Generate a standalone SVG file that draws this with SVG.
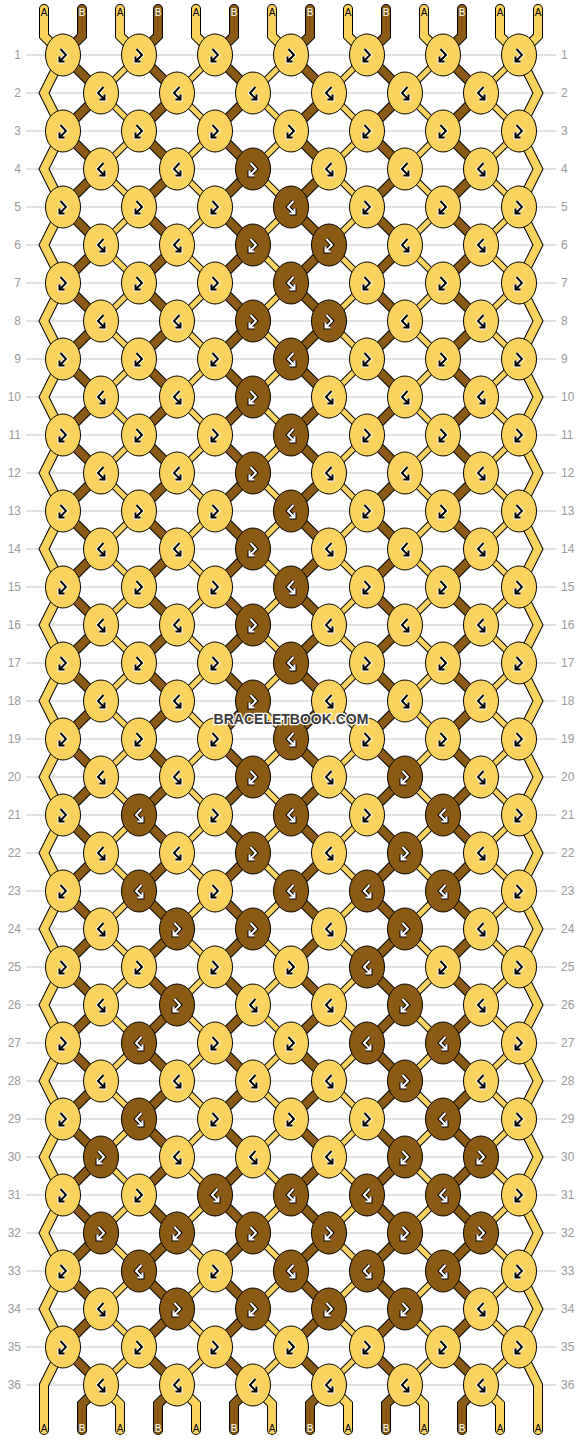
<svg xmlns="http://www.w3.org/2000/svg" xmlns:xlink="http://www.w3.org/1999/xlink" width="582" height="1440" viewBox="0 0 582 1440">
<style>
.ln{fill:none;stroke:#c4c4c4;stroke-width:1}
.lb{font-family:"Liberation Sans",Arial,sans-serif;font-size:12px;fill:#9a9a9a}
.lr{text-anchor:end}
.o10{fill:none;stroke:#000;stroke-width:10;stroke-linecap:round}
.o7{fill:none;stroke:#000;stroke-width:7}
.y8{fill:none;stroke:#FAD35E;stroke-width:8;stroke-linecap:round}
.b8{fill:none;stroke:#8B5A14;stroke-width:8;stroke-linecap:round}
.y5{fill:none;stroke:#FAD35E;stroke-width:5}
.tl{font-family:"Liberation Sans",Arial,sans-serif;font-size:10px;text-anchor:middle}
.ta{fill:#000}
.tb{fill:#fff}
.wm{font-family:"Liberation Sans",Arial,sans-serif;font-weight:bold;font-size:14px;text-anchor:middle;fill:#3a3a3a;stroke:#fff;stroke-width:2.5;paint-order:stroke;stroke-linejoin:round}
</style>
<defs>
<path id="zb" d="M0,0l38,38l-38,38l38,38l-38,38l38,38l-38,38l38,38l-38,38l38,38l-38,38 l38,38l-38,38l38,38l-38,38l38,38l-38,38l38,38l-38,38l38,38l-38,38 l38,38l-38,38l38,38l-38,38l38,38l-38,38l38,38l-38,38l38,38l-38,38 l38,38l-38,38l38,38l-38,38 l38,38"/>
<path id="za" d="M0,0l-38,38l38,38l-38,38l38,38l-38,38l38,38l-38,38l38,38l-38,38l38,38 l-38,38l38,38l-38,38l38,38l-38,38l38,38l-38,38l38,38l-38,38l38,38 l-38,38l38,38l-38,38l38,38l-38,38l38,38l-38,38l38,38l-38,38l38,38 l-38,38l38,38l-38,38l38,38 l-38,38"/>
<path id="edges" d="M44,9V36L63,55 l-19,38l19,38l-19,38l19,38l-19,38l19,38l-19,38l19,38l-19,38l19,38 l-19,38l19,38l-19,38l19,38l-19,38l19,38l-19,38l19,38l-19,38l19,38 l-19,38l19,38l-19,38l19,38l-19,38l19,38l-19,38l19,38l-19,38l19,38 l-19,38l19,38l-19,38l19,38 l-19,38V1430 M538,9V36L519,55 l19,38l-19,38l19,38l-19,38l19,38l-19,38l19,38l-19,38l19,38l-19,38 l19,38l-19,38l19,38l-19,38l19,38l-19,38l19,38l-19,38l19,38l-19,38 l19,38l-19,38l19,38l-19,38l19,38l-19,38l19,38l-19,38l19,38l-19,38 l19,38l-19,38l19,38l-19,38 l19,38V1430"/>
<path id="stA" d="M120,9V36L139,55M196,9V36L215,55M272,9V36L291,55M348,9V36L367,55M424,9V36L443,55M500,9V36L519,55M101,1385L120,1404V1430M177,1385L196,1404V1430M253,1385L272,1404V1430M329,1385L348,1404V1430M405,1385L424,1404V1430M481,1385L500,1404V1430"/>
<path id="stB" d="M82,9V36L63,55M158,9V36L139,55M234,9V36L215,55M310,9V36L291,55M386,9V36L367,55M462,9V36L443,55M101,1385L82,1404V1430M177,1385L158,1404V1430M253,1385L234,1404V1430M329,1385L310,1404V1430M405,1385L386,1404V1430M481,1385L462,1404V1430"/>
<path id="af" d="M-2.5,-6L3,0L-3.5,6.5M-3.5,1.5V6.5H1.5"/>
<path id="ab" d="M2.5,-6L-3,0L3.5,6.5M3.5,1.5V6.5H-1.5"/>
<g id="Yf"><ellipse rx="17.5" ry="21" fill="#FAD35E" stroke="#000" stroke-width="1"/><use href="#af" fill="none" stroke="#fff" stroke-width="4"/><use href="#af" fill="none" stroke="#000" stroke-width="2"/></g>
<g id="Yb"><ellipse rx="17.5" ry="21" fill="#FAD35E" stroke="#000" stroke-width="1"/><use href="#ab" fill="none" stroke="#fff" stroke-width="4"/><use href="#ab" fill="none" stroke="#000" stroke-width="2"/></g>
<g id="Bf"><ellipse rx="17.5" ry="21" fill="#8B5A14" stroke="#000" stroke-width="1"/><use href="#af" fill="none" stroke="#000" stroke-width="4"/><use href="#af" fill="none" stroke="#fff" stroke-width="2"/></g>
<g id="Bb"><ellipse rx="17.5" ry="21" fill="#8B5A14" stroke="#000" stroke-width="1"/><use href="#ab" fill="none" stroke="#000" stroke-width="4"/><use href="#ab" fill="none" stroke="#fff" stroke-width="2"/></g>
</defs>
<rect width="582" height="1440" fill="#fff"/>
<g id="grid">
<path class="ln" d="M26,55H556M26,93H556M26,131H556M26,169H556M26,207H556M26,245H556M26,283H556M26,321H556M26,359H556M26,397H556M26,435H556M26,473H556M26,511H556M26,549H556M26,587H556M26,625H556M26,663H556M26,701H556M26,739H556M26,777H556M26,815H556M26,853H556M26,891H556M26,929H556M26,967H556M26,1005H556M26,1043H556M26,1081H556M26,1119H556M26,1157H556M26,1195H556M26,1233H556M26,1271H556M26,1309H556M26,1347H556M26,1385H556"/>
<g class="lb">
<text class="lr" x="21" y="59">1</text><text x="561" y="59">1</text>
<text class="lr" x="21" y="97">2</text><text x="561" y="97">2</text>
<text class="lr" x="21" y="135">3</text><text x="561" y="135">3</text>
<text class="lr" x="21" y="173">4</text><text x="561" y="173">4</text>
<text class="lr" x="21" y="211">5</text><text x="561" y="211">5</text>
<text class="lr" x="21" y="249">6</text><text x="561" y="249">6</text>
<text class="lr" x="21" y="287">7</text><text x="561" y="287">7</text>
<text class="lr" x="21" y="325">8</text><text x="561" y="325">8</text>
<text class="lr" x="21" y="363">9</text><text x="561" y="363">9</text>
<text class="lr" x="21" y="401">10</text><text x="561" y="401">10</text>
<text class="lr" x="21" y="439">11</text><text x="561" y="439">11</text>
<text class="lr" x="21" y="477">12</text><text x="561" y="477">12</text>
<text class="lr" x="21" y="515">13</text><text x="561" y="515">13</text>
<text class="lr" x="21" y="553">14</text><text x="561" y="553">14</text>
<text class="lr" x="21" y="591">15</text><text x="561" y="591">15</text>
<text class="lr" x="21" y="629">16</text><text x="561" y="629">16</text>
<text class="lr" x="21" y="667">17</text><text x="561" y="667">17</text>
<text class="lr" x="21" y="705">18</text><text x="561" y="705">18</text>
<text class="lr" x="21" y="743">19</text><text x="561" y="743">19</text>
<text class="lr" x="21" y="781">20</text><text x="561" y="781">20</text>
<text class="lr" x="21" y="819">21</text><text x="561" y="819">21</text>
<text class="lr" x="21" y="857">22</text><text x="561" y="857">22</text>
<text class="lr" x="21" y="895">23</text><text x="561" y="895">23</text>
<text class="lr" x="21" y="933">24</text><text x="561" y="933">24</text>
<text class="lr" x="21" y="971">25</text><text x="561" y="971">25</text>
<text class="lr" x="21" y="1009">26</text><text x="561" y="1009">26</text>
<text class="lr" x="21" y="1047">27</text><text x="561" y="1047">27</text>
<text class="lr" x="21" y="1085">28</text><text x="561" y="1085">28</text>
<text class="lr" x="21" y="1123">29</text><text x="561" y="1123">29</text>
<text class="lr" x="21" y="1161">30</text><text x="561" y="1161">30</text>
<text class="lr" x="21" y="1199">31</text><text x="561" y="1199">31</text>
<text class="lr" x="21" y="1237">32</text><text x="561" y="1237">32</text>
<text class="lr" x="21" y="1275">33</text><text x="561" y="1275">33</text>
<text class="lr" x="21" y="1313">34</text><text x="561" y="1313">34</text>
<text class="lr" x="21" y="1351">35</text><text x="561" y="1351">35</text>
<text class="lr" x="21" y="1389">36</text><text x="561" y="1389">36</text>
</g>
</g>
<g id="connectors">
<use href="#za" x="139" y="55" class="o7"/><use href="#za" x="215" y="55" class="o7"/><use href="#za" x="291" y="55" class="o7"/><use href="#za" x="367" y="55" class="o7"/><use href="#za" x="443" y="55" class="o7"/><use href="#za" x="519" y="55" class="o7"/>
<use href="#zb" x="63" y="55" class="o10"/><use href="#zb" x="139" y="55" class="o10"/><use href="#zb" x="215" y="55" class="o10"/><use href="#zb" x="291" y="55" class="o10"/><use href="#zb" x="367" y="55" class="o10"/><use href="#zb" x="443" y="55" class="o10"/>
<use href="#edges" class="o10"/><use href="#stA" class="o10"/><use href="#stB" class="o10"/>
<use href="#za" x="139" y="55" class="y5"/><use href="#za" x="215" y="55" class="y5"/><use href="#za" x="291" y="55" class="y5"/><use href="#za" x="367" y="55" class="y5"/><use href="#za" x="443" y="55" class="y5"/><use href="#za" x="519" y="55" class="y5"/>
<use href="#zb" x="63" y="55" class="b8"/><use href="#zb" x="139" y="55" class="b8"/><use href="#zb" x="215" y="55" class="b8"/><use href="#zb" x="291" y="55" class="b8"/><use href="#zb" x="367" y="55" class="b8"/><use href="#zb" x="443" y="55" class="b8"/>
<use href="#edges" class="y8"/><use href="#stA" class="y8"/><use href="#stB" class="b8"/>
</g>
<g id="string-labels" class="tl">
<text class="ta" x="44" y="16">A</text><text class="tb" x="82" y="16">B</text><text class="ta" x="120" y="16">A</text><text class="tb" x="158" y="16">B</text><text class="ta" x="196" y="16">A</text><text class="tb" x="234" y="16">B</text><text class="ta" x="272" y="16">A</text><text class="tb" x="310" y="16">B</text><text class="ta" x="348" y="16">A</text><text class="tb" x="386" y="16">B</text><text class="ta" x="424" y="16">A</text><text class="tb" x="462" y="16">B</text><text class="ta" x="500" y="16">A</text><text class="ta" x="538" y="16">A</text>
<text class="ta" x="44" y="1432">A</text><text class="tb" x="82" y="1432">B</text><text class="ta" x="120" y="1432">A</text><text class="tb" x="158" y="1432">B</text><text class="ta" x="196" y="1432">A</text><text class="tb" x="234" y="1432">B</text><text class="ta" x="272" y="1432">A</text><text class="tb" x="310" y="1432">B</text><text class="ta" x="348" y="1432">A</text><text class="tb" x="386" y="1432">B</text><text class="ta" x="424" y="1432">A</text><text class="tb" x="462" y="1432">B</text><text class="ta" x="500" y="1432">A</text><text class="ta" x="538" y="1432">A</text>
</g>
<g id="knots">
<g id="r1k1"><use href="#Yf" x="63" y="55"/></g><g id="r1k2"><use href="#Yf" x="139" y="55"/></g><g id="r1k3"><use href="#Yf" x="215" y="55"/></g><g id="r1k4"><use href="#Yf" x="291" y="55"/></g><g id="r1k5"><use href="#Yf" x="367" y="55"/></g><g id="r1k6"><use href="#Yf" x="443" y="55"/></g><g id="r1k7"><use href="#Yf" x="519" y="55"/></g>
<g id="r2k1"><use href="#Yb" x="101" y="93"/></g><g id="r2k2"><use href="#Yb" x="177" y="93"/></g><g id="r2k3"><use href="#Yb" x="253" y="93"/></g><g id="r2k4"><use href="#Yb" x="329" y="93"/></g><g id="r2k5"><use href="#Yb" x="405" y="93"/></g><g id="r2k6"><use href="#Yb" x="481" y="93"/></g>
<g id="r3k1"><use href="#Yf" x="63" y="131"/></g><g id="r3k2"><use href="#Yf" x="139" y="131"/></g><g id="r3k3"><use href="#Yf" x="215" y="131"/></g><g id="r3k4"><use href="#Yf" x="291" y="131"/></g><g id="r3k5"><use href="#Yf" x="367" y="131"/></g><g id="r3k6"><use href="#Yf" x="443" y="131"/></g><g id="r3k7"><use href="#Yf" x="519" y="131"/></g>
<g id="r4k1"><use href="#Yb" x="101" y="169"/></g><g id="r4k2"><use href="#Yb" x="177" y="169"/></g><g id="r4k3"><use href="#Bf" x="253" y="169"/></g><g id="r4k4"><use href="#Yb" x="329" y="169"/></g><g id="r4k5"><use href="#Yb" x="405" y="169"/></g><g id="r4k6"><use href="#Yb" x="481" y="169"/></g>
<g id="r5k1"><use href="#Yf" x="63" y="207"/></g><g id="r5k2"><use href="#Yf" x="139" y="207"/></g><g id="r5k3"><use href="#Yf" x="215" y="207"/></g><g id="r5k4"><use href="#Bb" x="291" y="207"/></g><g id="r5k5"><use href="#Yf" x="367" y="207"/></g><g id="r5k6"><use href="#Yf" x="443" y="207"/></g><g id="r5k7"><use href="#Yf" x="519" y="207"/></g>
<g id="r6k1"><use href="#Yb" x="101" y="245"/></g><g id="r6k2"><use href="#Yb" x="177" y="245"/></g><g id="r6k3"><use href="#Bf" x="253" y="245"/></g><g id="r6k4"><use href="#Bf" x="329" y="245"/></g><g id="r6k5"><use href="#Yb" x="405" y="245"/></g><g id="r6k6"><use href="#Yb" x="481" y="245"/></g>
<g id="r7k1"><use href="#Yf" x="63" y="283"/></g><g id="r7k2"><use href="#Yf" x="139" y="283"/></g><g id="r7k3"><use href="#Yf" x="215" y="283"/></g><g id="r7k4"><use href="#Bb" x="291" y="283"/></g><g id="r7k5"><use href="#Yf" x="367" y="283"/></g><g id="r7k6"><use href="#Yf" x="443" y="283"/></g><g id="r7k7"><use href="#Yf" x="519" y="283"/></g>
<g id="r8k1"><use href="#Yb" x="101" y="321"/></g><g id="r8k2"><use href="#Yb" x="177" y="321"/></g><g id="r8k3"><use href="#Bf" x="253" y="321"/></g><g id="r8k4"><use href="#Bf" x="329" y="321"/></g><g id="r8k5"><use href="#Yb" x="405" y="321"/></g><g id="r8k6"><use href="#Yb" x="481" y="321"/></g>
<g id="r9k1"><use href="#Yf" x="63" y="359"/></g><g id="r9k2"><use href="#Yf" x="139" y="359"/></g><g id="r9k3"><use href="#Yf" x="215" y="359"/></g><g id="r9k4"><use href="#Bb" x="291" y="359"/></g><g id="r9k5"><use href="#Yf" x="367" y="359"/></g><g id="r9k6"><use href="#Yf" x="443" y="359"/></g><g id="r9k7"><use href="#Yf" x="519" y="359"/></g>
<g id="r10k1"><use href="#Yb" x="101" y="397"/></g><g id="r10k2"><use href="#Yb" x="177" y="397"/></g><g id="r10k3"><use href="#Bf" x="253" y="397"/></g><g id="r10k4"><use href="#Yb" x="329" y="397"/></g><g id="r10k5"><use href="#Yb" x="405" y="397"/></g><g id="r10k6"><use href="#Yb" x="481" y="397"/></g>
<g id="r11k1"><use href="#Yf" x="63" y="435"/></g><g id="r11k2"><use href="#Yf" x="139" y="435"/></g><g id="r11k3"><use href="#Yf" x="215" y="435"/></g><g id="r11k4"><use href="#Bb" x="291" y="435"/></g><g id="r11k5"><use href="#Yf" x="367" y="435"/></g><g id="r11k6"><use href="#Yf" x="443" y="435"/></g><g id="r11k7"><use href="#Yf" x="519" y="435"/></g>
<g id="r12k1"><use href="#Yb" x="101" y="473"/></g><g id="r12k2"><use href="#Yb" x="177" y="473"/></g><g id="r12k3"><use href="#Bf" x="253" y="473"/></g><g id="r12k4"><use href="#Yb" x="329" y="473"/></g><g id="r12k5"><use href="#Yb" x="405" y="473"/></g><g id="r12k6"><use href="#Yb" x="481" y="473"/></g>
<g id="r13k1"><use href="#Yf" x="63" y="511"/></g><g id="r13k2"><use href="#Yf" x="139" y="511"/></g><g id="r13k3"><use href="#Yf" x="215" y="511"/></g><g id="r13k4"><use href="#Bb" x="291" y="511"/></g><g id="r13k5"><use href="#Yf" x="367" y="511"/></g><g id="r13k6"><use href="#Yf" x="443" y="511"/></g><g id="r13k7"><use href="#Yf" x="519" y="511"/></g>
<g id="r14k1"><use href="#Yb" x="101" y="549"/></g><g id="r14k2"><use href="#Yb" x="177" y="549"/></g><g id="r14k3"><use href="#Bf" x="253" y="549"/></g><g id="r14k4"><use href="#Yb" x="329" y="549"/></g><g id="r14k5"><use href="#Yb" x="405" y="549"/></g><g id="r14k6"><use href="#Yb" x="481" y="549"/></g>
<g id="r15k1"><use href="#Yf" x="63" y="587"/></g><g id="r15k2"><use href="#Yf" x="139" y="587"/></g><g id="r15k3"><use href="#Yf" x="215" y="587"/></g><g id="r15k4"><use href="#Bb" x="291" y="587"/></g><g id="r15k5"><use href="#Yf" x="367" y="587"/></g><g id="r15k6"><use href="#Yf" x="443" y="587"/></g><g id="r15k7"><use href="#Yf" x="519" y="587"/></g>
<g id="r16k1"><use href="#Yb" x="101" y="625"/></g><g id="r16k2"><use href="#Yb" x="177" y="625"/></g><g id="r16k3"><use href="#Bf" x="253" y="625"/></g><g id="r16k4"><use href="#Yb" x="329" y="625"/></g><g id="r16k5"><use href="#Yb" x="405" y="625"/></g><g id="r16k6"><use href="#Yb" x="481" y="625"/></g>
<g id="r17k1"><use href="#Yf" x="63" y="663"/></g><g id="r17k2"><use href="#Yf" x="139" y="663"/></g><g id="r17k3"><use href="#Yf" x="215" y="663"/></g><g id="r17k4"><use href="#Bb" x="291" y="663"/></g><g id="r17k5"><use href="#Yf" x="367" y="663"/></g><g id="r17k6"><use href="#Yf" x="443" y="663"/></g><g id="r17k7"><use href="#Yf" x="519" y="663"/></g>
<g id="r18k1"><use href="#Yb" x="101" y="701"/></g><g id="r18k2"><use href="#Yb" x="177" y="701"/></g><g id="r18k3"><use href="#Bf" x="253" y="701"/></g><g id="r18k4"><use href="#Yb" x="329" y="701"/></g><g id="r18k5"><use href="#Yb" x="405" y="701"/></g><g id="r18k6"><use href="#Yb" x="481" y="701"/></g>
<g id="r19k1"><use href="#Yf" x="63" y="739"/></g><g id="r19k2"><use href="#Yf" x="139" y="739"/></g><g id="r19k3"><use href="#Yf" x="215" y="739"/></g><g id="r19k4"><use href="#Bb" x="291" y="739"/></g><g id="r19k5"><use href="#Yf" x="367" y="739"/></g><g id="r19k6"><use href="#Yf" x="443" y="739"/></g><g id="r19k7"><use href="#Yf" x="519" y="739"/></g>
<g id="r20k1"><use href="#Yb" x="101" y="777"/></g><g id="r20k2"><use href="#Yb" x="177" y="777"/></g><g id="r20k3"><use href="#Bf" x="253" y="777"/></g><g id="r20k4"><use href="#Yb" x="329" y="777"/></g><g id="r20k5"><use href="#Bf" x="405" y="777"/></g><g id="r20k6"><use href="#Yb" x="481" y="777"/></g>
<g id="r21k1"><use href="#Yf" x="63" y="815"/></g><g id="r21k2"><use href="#Bb" x="139" y="815"/></g><g id="r21k3"><use href="#Yf" x="215" y="815"/></g><g id="r21k4"><use href="#Bb" x="291" y="815"/></g><g id="r21k5"><use href="#Yf" x="367" y="815"/></g><g id="r21k6"><use href="#Bb" x="443" y="815"/></g><g id="r21k7"><use href="#Yf" x="519" y="815"/></g>
<g id="r22k1"><use href="#Yb" x="101" y="853"/></g><g id="r22k2"><use href="#Yb" x="177" y="853"/></g><g id="r22k3"><use href="#Bf" x="253" y="853"/></g><g id="r22k4"><use href="#Yb" x="329" y="853"/></g><g id="r22k5"><use href="#Bf" x="405" y="853"/></g><g id="r22k6"><use href="#Yb" x="481" y="853"/></g>
<g id="r23k1"><use href="#Yf" x="63" y="891"/></g><g id="r23k2"><use href="#Bb" x="139" y="891"/></g><g id="r23k3"><use href="#Yf" x="215" y="891"/></g><g id="r23k4"><use href="#Bb" x="291" y="891"/></g><g id="r23k5"><use href="#Bb" x="367" y="891"/></g><g id="r23k6"><use href="#Bb" x="443" y="891"/></g><g id="r23k7"><use href="#Yf" x="519" y="891"/></g>
<g id="r24k1"><use href="#Yb" x="101" y="929"/></g><g id="r24k2"><use href="#Bf" x="177" y="929"/></g><g id="r24k3"><use href="#Bf" x="253" y="929"/></g><g id="r24k4"><use href="#Yb" x="329" y="929"/></g><g id="r24k5"><use href="#Bf" x="405" y="929"/></g><g id="r24k6"><use href="#Yb" x="481" y="929"/></g>
<g id="r25k1"><use href="#Yf" x="63" y="967"/></g><g id="r25k2"><use href="#Yf" x="139" y="967"/></g><g id="r25k3"><use href="#Yf" x="215" y="967"/></g><g id="r25k4"><use href="#Yf" x="291" y="967"/></g><g id="r25k5"><use href="#Bb" x="367" y="967"/></g><g id="r25k6"><use href="#Yf" x="443" y="967"/></g><g id="r25k7"><use href="#Yf" x="519" y="967"/></g>
<g id="r26k1"><use href="#Yb" x="101" y="1005"/></g><g id="r26k2"><use href="#Bf" x="177" y="1005"/></g><g id="r26k3"><use href="#Yb" x="253" y="1005"/></g><g id="r26k4"><use href="#Yb" x="329" y="1005"/></g><g id="r26k5"><use href="#Bf" x="405" y="1005"/></g><g id="r26k6"><use href="#Yb" x="481" y="1005"/></g>
<g id="r27k1"><use href="#Yf" x="63" y="1043"/></g><g id="r27k2"><use href="#Bb" x="139" y="1043"/></g><g id="r27k3"><use href="#Yf" x="215" y="1043"/></g><g id="r27k4"><use href="#Yf" x="291" y="1043"/></g><g id="r27k5"><use href="#Bb" x="367" y="1043"/></g><g id="r27k6"><use href="#Bb" x="443" y="1043"/></g><g id="r27k7"><use href="#Yf" x="519" y="1043"/></g>
<g id="r28k1"><use href="#Yb" x="101" y="1081"/></g><g id="r28k2"><use href="#Yb" x="177" y="1081"/></g><g id="r28k3"><use href="#Yb" x="253" y="1081"/></g><g id="r28k4"><use href="#Yb" x="329" y="1081"/></g><g id="r28k5"><use href="#Bf" x="405" y="1081"/></g><g id="r28k6"><use href="#Yb" x="481" y="1081"/></g>
<g id="r29k1"><use href="#Yf" x="63" y="1119"/></g><g id="r29k2"><use href="#Bb" x="139" y="1119"/></g><g id="r29k3"><use href="#Yf" x="215" y="1119"/></g><g id="r29k4"><use href="#Yf" x="291" y="1119"/></g><g id="r29k5"><use href="#Yf" x="367" y="1119"/></g><g id="r29k6"><use href="#Bb" x="443" y="1119"/></g><g id="r29k7"><use href="#Yf" x="519" y="1119"/></g>
<g id="r30k1"><use href="#Bf" x="101" y="1157"/></g><g id="r30k2"><use href="#Yb" x="177" y="1157"/></g><g id="r30k3"><use href="#Yb" x="253" y="1157"/></g><g id="r30k4"><use href="#Yb" x="329" y="1157"/></g><g id="r30k5"><use href="#Bf" x="405" y="1157"/></g><g id="r30k6"><use href="#Bf" x="481" y="1157"/></g>
<g id="r31k1"><use href="#Yf" x="63" y="1195"/></g><g id="r31k2"><use href="#Yf" x="139" y="1195"/></g><g id="r31k3"><use href="#Bb" x="215" y="1195"/></g><g id="r31k4"><use href="#Bb" x="291" y="1195"/></g><g id="r31k5"><use href="#Bb" x="367" y="1195"/></g><g id="r31k6"><use href="#Bb" x="443" y="1195"/></g><g id="r31k7"><use href="#Yf" x="519" y="1195"/></g>
<g id="r32k1"><use href="#Bf" x="101" y="1233"/></g><g id="r32k2"><use href="#Bf" x="177" y="1233"/></g><g id="r32k3"><use href="#Bf" x="253" y="1233"/></g><g id="r32k4"><use href="#Bf" x="329" y="1233"/></g><g id="r32k5"><use href="#Bf" x="405" y="1233"/></g><g id="r32k6"><use href="#Bf" x="481" y="1233"/></g>
<g id="r33k1"><use href="#Yf" x="63" y="1271"/></g><g id="r33k2"><use href="#Bb" x="139" y="1271"/></g><g id="r33k3"><use href="#Yf" x="215" y="1271"/></g><g id="r33k4"><use href="#Bb" x="291" y="1271"/></g><g id="r33k5"><use href="#Bb" x="367" y="1271"/></g><g id="r33k6"><use href="#Bb" x="443" y="1271"/></g><g id="r33k7"><use href="#Yf" x="519" y="1271"/></g>
<g id="r34k1"><use href="#Yb" x="101" y="1309"/></g><g id="r34k2"><use href="#Bf" x="177" y="1309"/></g><g id="r34k3"><use href="#Bf" x="253" y="1309"/></g><g id="r34k4"><use href="#Bf" x="329" y="1309"/></g><g id="r34k5"><use href="#Bf" x="405" y="1309"/></g><g id="r34k6"><use href="#Yb" x="481" y="1309"/></g>
<g id="r35k1"><use href="#Yf" x="63" y="1347"/></g><g id="r35k2"><use href="#Yf" x="139" y="1347"/></g><g id="r35k3"><use href="#Yf" x="215" y="1347"/></g><g id="r35k4"><use href="#Yf" x="291" y="1347"/></g><g id="r35k5"><use href="#Yf" x="367" y="1347"/></g><g id="r35k6"><use href="#Yf" x="443" y="1347"/></g><g id="r35k7"><use href="#Yf" x="519" y="1347"/></g>
<g id="r36k1"><use href="#Yb" x="101" y="1385"/></g><g id="r36k2"><use href="#Yb" x="177" y="1385"/></g><g id="r36k3"><use href="#Yb" x="253" y="1385"/></g><g id="r36k4"><use href="#Yb" x="329" y="1385"/></g><g id="r36k5"><use href="#Yb" x="405" y="1385"/></g><g id="r36k6"><use href="#Yb" x="481" y="1385"/></g>
</g>
<text class="wm" x="291" y="724">BRACELETBOOK.COM</text>
</svg>
